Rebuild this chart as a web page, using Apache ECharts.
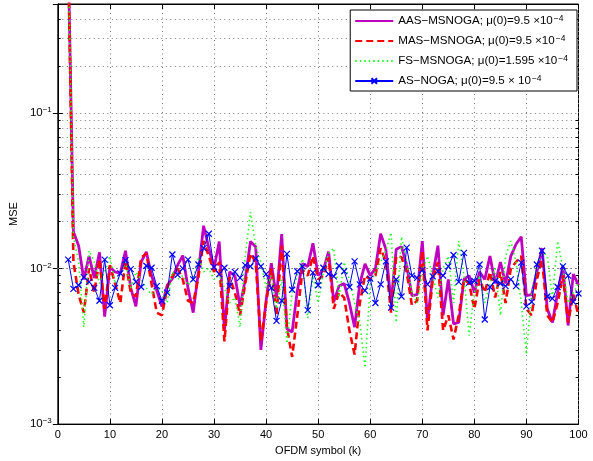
<!DOCTYPE html>
<html>
<head>
<meta charset="utf-8">
<script src="https://cdn.jsdelivr.net/npm/echarts@6/dist/echarts.min.js"></script>
<style>
html,body{margin:0;padding:0;background:#fff;}
#chart{width:593px;height:461px;}
</style>
</head>
<body>
<div id="chart"></div>
<script>
// ---- data (k = 2 .. 100) ----
const K_START = 2;
const aasMsnoga = [
 1.0, 0.0172, 0.0140, 0.0085, 0.0120, 0.0087, 0.0127, 0.0049, 0.0102, 0.0095,
 0.0093, 0.0130, 0.0075, 0.0057, 0.0110, 0.0128, 0.0090, 0.0072, 0.0057, 0.0078,
 0.0086, 0.0105, 0.0121, 0.0075, 0.0052, 0.0095, 0.0188, 0.0135, 0.0100, 0.0149,
 0.0040, 0.0095, 0.0090, 0.0057, 0.0085, 0.0149, 0.0138, 0.0030, 0.0062, 0.0108,
 0.0065, 0.0166, 0.0041, 0.0039, 0.0072, 0.0107, 0.0103, 0.0145, 0.0090, 0.0098,
 0.0128, 0.0061, 0.0077, 0.0080, 0.0060, 0.0042, 0.0080, 0.0107, 0.0090, 0.0100,
 0.0167, 0.0133, 0.0060, 0.0133, 0.0138, 0.0105, 0.0067, 0.0068, 0.0150, 0.0046,
 0.0090, 0.0140, 0.0050, 0.0085, 0.0044, 0.0045, 0.0085, 0.0090, 0.0070, 0.0095,
 0.0085, 0.0120, 0.0080, 0.0110, 0.0080, 0.0120, 0.0143, 0.0160, 0.0067, 0.0068,
 0.0095, 0.0135, 0.0055, 0.0045, 0.0070, 0.0104, 0.0043, 0.0092, 0.0078
];
const masMsnoga = [
 1.0, 0.0110, 0.0068, 0.0052, 0.0100, 0.0070, 0.0115, 0.0055, 0.0105, 0.0080,
 0.0060, 0.0112, 0.0070, 0.0066, 0.0117, 0.0125, 0.0080, 0.0052, 0.0050, 0.0075,
 0.0090, 0.0100, 0.0085, 0.0062, 0.0060, 0.0088, 0.0150, 0.0120, 0.0095, 0.0110,
 0.0034, 0.0088, 0.0070, 0.0050, 0.0080, 0.0125, 0.0110, 0.0034, 0.0060, 0.0100,
 0.0050, 0.0140, 0.0042, 0.0027, 0.0050, 0.0098, 0.0090, 0.0120, 0.0085, 0.0090,
 0.0118, 0.0055, 0.0070, 0.0065, 0.0040, 0.0028, 0.0060, 0.0090, 0.0085, 0.0090,
 0.0135, 0.0110, 0.0052, 0.0120, 0.0118, 0.0095, 0.0058, 0.0062, 0.0130, 0.0040,
 0.0085, 0.0110, 0.0040, 0.0050, 0.0035, 0.0050, 0.0085, 0.0080, 0.0055, 0.0085,
 0.0070, 0.0095, 0.0065, 0.0095, 0.0060, 0.0100, 0.0110, 0.0120, 0.0055, 0.0050,
 0.0085, 0.0115, 0.0050, 0.0045, 0.0060, 0.0090, 0.0045, 0.0068, 0.0050
];
const fsMsnoga = [
 1.0, 0.0160, 0.0110, 0.0042, 0.0130, 0.0110, 0.0080, 0.0095, 0.0120, 0.0080,
 0.0090, 0.0110, 0.0075, 0.0095, 0.0085, 0.0075, 0.0068, 0.0078, 0.0072, 0.0060,
 0.0095, 0.0085, 0.0090, 0.0078, 0.0085, 0.0118, 0.0095, 0.0100, 0.0085, 0.0090,
 0.0075, 0.0060, 0.0065, 0.0042, 0.0120, 0.0230, 0.0140, 0.0110, 0.0075, 0.0090,
 0.0055, 0.0085, 0.0033, 0.0070, 0.0090, 0.0115, 0.0048, 0.0090, 0.0060, 0.0095,
 0.0125, 0.0135, 0.0065, 0.0110, 0.0085, 0.0060, 0.0045, 0.0023, 0.0080, 0.0095,
 0.0110, 0.0130, 0.0170, 0.0045, 0.0160, 0.0110, 0.0070, 0.0060, 0.0095, 0.0120,
 0.0090, 0.0065, 0.0100, 0.0120, 0.0060, 0.0150, 0.0090, 0.0037, 0.0070, 0.0090,
 0.0060, 0.0080, 0.0100, 0.0050, 0.0120, 0.0150, 0.0110, 0.0060, 0.0028, 0.0070,
 0.0100, 0.0130, 0.0120, 0.0065, 0.0150, 0.0100, 0.0060, 0.0070, 0.0080
];
const asNoga = [
 0.0114, 0.0074, 0.0078, 0.0088, 0.0082, 0.0075, 0.0062, 0.0114, 0.0058, 0.0075,
 0.0093, 0.0113, 0.0099, 0.0082, 0.0076, 0.0104, 0.0101, 0.0077, 0.0062, 0.0070,
 0.0123, 0.0091, 0.0100, 0.0114, 0.0085, 0.0106, 0.0135, 0.0167, 0.0102, 0.0092,
 0.0101, 0.0077, 0.0095, 0.0087, 0.0105, 0.0103, 0.0116, 0.0103, 0.0092, 0.0075,
 0.0046, 0.0062, 0.0124, 0.0073, 0.0096, 0.0103, 0.0054, 0.0094, 0.0078, 0.0101,
 0.0092, 0.0089, 0.0104, 0.0096, 0.0076, 0.0111, 0.0079, 0.0072, 0.0086, 0.0060,
 0.0079, 0.0111, 0.0056, 0.0085, 0.0066, 0.0136, 0.0090, 0.0087, 0.0098, 0.0079,
 0.0089, 0.0096, 0.0090, 0.0103, 0.0122, 0.0082, 0.0126, 0.0081, 0.0083, 0.0106,
 0.0047, 0.0076, 0.0083, 0.0080, 0.0077, 0.0085, 0.0077, 0.0109, 0.0057, 0.0061,
 0.0106, 0.0130, 0.0066, 0.0064, 0.0076, 0.0103, 0.0090, 0.0061, 0.0069
];
const seriesNames = ['AAS', 'MAS', 'FS', 'AS'];
const legendMain = {
  AAS: 'AAS\u2212MSNOGA; \u03bc(0)=9.5 \u00d710',
  MAS: 'MAS\u2212MSNOGA; \u03bc(0)=9.5 \u00d710',
  FS:  'FS\u2212MSNOGA; \u03bc(0)=1.595 \u00d710',
  AS:  'AS\u2212NOGA; \u03bc(0)=9.5 \u00d7 10'
};
const legendExp = '\u22124';
const xTicks = [0, 10, 20, 30, 40, 50, 60, 70, 80, 90, 100];
const yMin = 0.001, yMax = 0.5;
const yMinorGrid = [0.002,0.003,0.004,0.005,0.006,0.007,0.008,0.009,
                    0.02,0.03,0.04,0.05,0.06,0.07,0.08,0.09,
                    0.2,0.3,0.4];
const xLabel = 'OFDM symbol (k)';
const yLabel = 'MSE';

// ---- chart ----
const FONT = 'Liberation Sans, Arial, Helvetica, sans-serif';
const toPairs = arr => arr.map((v, i) => [K_START + i, v]);
const dotted = { color: '#7a7a7a', width: 1, type: [1, 3.5] };

const minorLines = [];
yMinorGrid.forEach(v => minorLines.push({ yAxis: v, lineStyle: dotted }));
// minor tick marks on left / right
yMinorGrid.forEach(v => {
  minorLines.push([{ coord: [0, v], lineStyle: { color: '#000', width: 1, type: 'solid' } }, { coord: [0.55, v] }]);
  minorLines.push([{ coord: [99.45, v], lineStyle: { color: '#000', width: 1, type: 'solid' } }, { coord: [100, v] }]);
});

function yFmt(v) {
  const e = Math.round(Math.log10(v));
  if (Math.abs(Math.log10(v) - e) > 1e-6) return '';
  return '{b|10}{s|\u2212' + Math.abs(e) + '}';
}

const hideSym = { color: 'transparent', borderWidth: 0, opacity: 0 };

const chart = echarts.init(document.getElementById('chart'), null, { renderer: 'canvas' });
chart.setOption({
  animation: false,
  backgroundColor: '#fff',
  textStyle: { fontFamily: FONT },
  grid: { left: 56, right: 14.5, top: 4, bottom: 33, show: true, borderColor: '#000', borderWidth: 1, backgroundColor: 'transparent' },
  legend: {
    data: [
      { name: 'AAS', itemStyle: hideSym },
      { name: 'MAS', itemStyle: hideSym },
      { name: 'FS', itemStyle: hideSym },
      { name: 'AS' }
    ],
    orient: 'vertical',
    right: 16, top: 10,
    padding: [4, 9, 4, 4],
    itemGap: 7,
    itemWidth: 38, itemHeight: 7,
    borderColor: '#000', borderWidth: 1, backgroundColor: '#fff',
    formatter: n => '{t|' + legendMain[n] + '}{s|' + legendExp + '}',
    textStyle: {
      fontFamily: FONT, fontSize: 11.6, color: '#000',
      rich: {
        t: { fontFamily: FONT, fontSize: 11.6, color: '#000', lineHeight: 14 },
        s: { fontFamily: FONT, fontSize: 8.5, color: '#000', verticalAlign: 'top', lineHeight: 14, padding: [0, 0, 0, 1] }
      }
    }
  },
  xAxis: [{
    type: 'value', min: 0, max: 100, interval: 10, position: 'bottom',
    name: xLabel, nameLocation: 'middle', nameGap: 18,
    nameTextStyle: { fontFamily: FONT, fontSize: 11, color: '#000' },
    axisLine: { show: true, lineStyle: { color: '#000', width: 1 } },
    axisTick: { show: true, inside: true, length: 5, lineStyle: { color: '#000' } },
    axisLabel: { fontFamily: FONT, fontSize: 11, color: '#000', margin: 5 },
    splitLine: { show: true, lineStyle: dotted }
  }, {
    type: 'value', min: 0, max: 100, interval: 10, position: 'top',
    axisLine: { show: true, lineStyle: { color: '#000', width: 1 } },
    axisTick: { show: true, inside: true, length: 5, lineStyle: { color: '#000' } },
    axisLabel: { show: false }, splitLine: { show: false }
  }],
  yAxis: [{
    type: 'log', logBase: 10, min: yMin, max: yMax, position: 'left',
    name: yLabel, nameLocation: 'middle', nameGap: 34, nameRotate: 90,
    nameTextStyle: { fontFamily: FONT, fontSize: 11, color: '#000' },
    axisLine: { show: true, lineStyle: { color: '#000', width: 1 } },
    axisTick: { show: true, inside: true, length: 5, lineStyle: { color: '#000' } },
    axisLabel: {
      formatter: yFmt, showMaxLabel: false, margin: 6, color: '#000',
      rich: {
        b: { fontFamily: FONT, fontSize: 11.5, color: '#000', lineHeight: 14 },
        s: { fontFamily: FONT, fontSize: 8, color: '#000', verticalAlign: 'top', lineHeight: 14 }
      }
    },
    splitLine: { show: true, lineStyle: dotted }
  }, {
    type: 'log', logBase: 10, min: yMin, max: yMax, position: 'right',
    axisLine: { show: true, lineStyle: { color: '#000', width: 1 } },
    axisTick: { show: true, inside: true, length: 5, lineStyle: { color: '#000' } },
    axisLabel: { show: false }, splitLine: { show: false }
  }],
  series: [
    {
      name: 'AAS', type: 'line', data: toPairs(aasMsnoga), symbol: 'none',
      lineStyle: { color: '#BF00BF', width: 2.8, type: 'solid' },
      itemStyle: { color: '#BF00BF' }, z: 3,
      markLine: { silent: true, symbol: 'none', label: { show: false }, animation: false, z: 1, data: minorLines }
    },
    {
      name: 'MAS', type: 'line', data: toPairs(masMsnoga), symbol: 'none',
      lineStyle: { color: '#FF0000', width: 2.6, type: [7, 4] },
      itemStyle: { color: '#FF0000' }, z: 4
    },
    {
      name: 'FS', type: 'line', data: toPairs(fsMsnoga), symbol: 'none',
      lineStyle: { color: '#22FF22', width: 1.6, type: [1.5, 3] },
      itemStyle: { color: '#22FF22' }, z: 5
    },
    {
      name: 'AS', type: 'line', data: toPairs(asNoga),
      symbol: 'path://M0,0L10,10M10,0L0,10', symbolSize: 6, showSymbol: true,
      lineStyle: { color: '#0000FF', width: 1 },
      itemStyle: { color: '#0000FF', borderColor: '#0000FF', borderWidth: 1.2 }, z: 6
    }
  ]
});
</script>
</body>
</html>
